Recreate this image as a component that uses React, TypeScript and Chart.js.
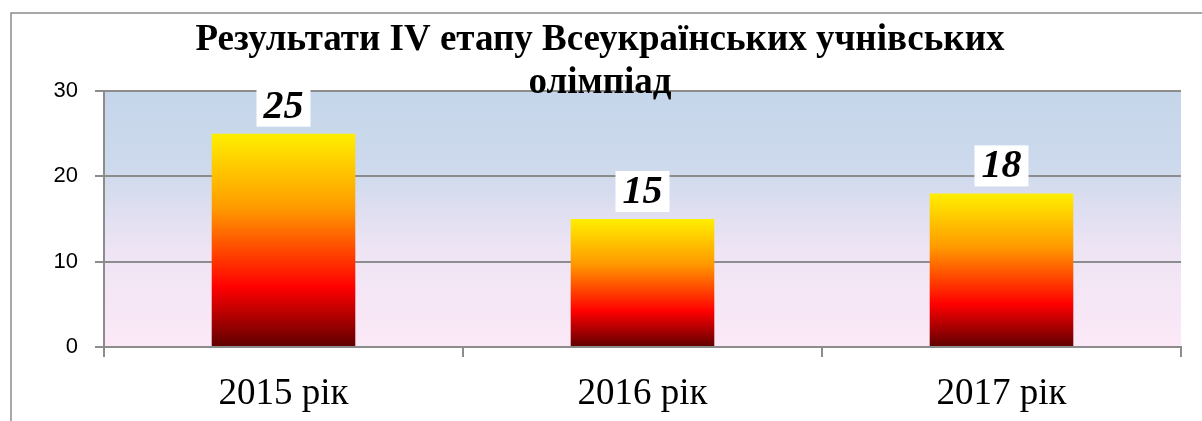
import React, { useEffect, useRef } from "react";
import { Chart, registerables } from "chart.js";

Chart.register(...registerables);

const titleLines = ["Результати IV етапу Всеукраїнських учнівських", "олімпіад"];
const categories = ["2015 рік", "2016 рік", "2017 рік"];
const values = [25, 15, 18];
const yTicks = [0, 10, 20, 30];

const SERIF = "'Liberation Serif', 'Times New Roman', serif";

const decorPlugin = {
  id: "decor",
  beforeDraw(chart: any) {
    const { ctx, chartArea } = chart;
    ctx.save();
    ctx.fillStyle = "#ffffff";
    ctx.fillRect(0, 0, chart.width, chart.height);
    // outer frame (left & top only visible)
    ctx.strokeStyle = "#8c8c8c";
    ctx.lineWidth = 1.5;
    ctx.beginPath();
    ctx.moveTo(11, chart.height);
    ctx.lineTo(11, 13);
    ctx.lineTo(chart.width, 13);
    ctx.stroke();
    // plot background gradient
    const g = ctx.createLinearGradient(0, chartArea.top, 0, chartArea.bottom);
    g.addColorStop(0, "#c5d6ea");
    g.addColorStop(0.3, "#cdd9ec");
    g.addColorStop(0.62, "#eee4f4");
    g.addColorStop(1, "#fce9f7");
    ctx.fillStyle = g;
    ctx.fillRect(chartArea.left, chartArea.top, chartArea.right - chartArea.left, chartArea.bottom - chartArea.top);
    ctx.restore();
  },
  afterDatasetsDraw(chart: any) {
    const { ctx } = chart;
    const meta = chart.getDatasetMeta(0);
    ctx.save();
    ctx.font = `italic bold 40px ${SERIF}`;
    ctx.textAlign = "center";
    ctx.textBaseline = "alphabetic";
    meta.data.forEach((bar: any, i: number) => {
      const text = String(values[i]);
      const w = ctx.measureText(text).width + 14;
      const h = 41;
      const bottom = bar.y - 7;
      ctx.fillStyle = "#ffffff";
      ctx.fillRect(bar.x - w / 2, bottom - h, w, h);
      ctx.fillStyle = "#000000";
      ctx.fillText(text, bar.x, bottom - 9);
    });
    ctx.restore();
  },
  afterDraw(chart: any) {
    const { ctx } = chart;
    ctx.save();
    ctx.font = `bold 37px ${SERIF}`;
    ctx.textAlign = "center";
    ctx.textBaseline = "alphabetic";
    ctx.fillStyle = "#000000";
    ctx.fillText(titleLines[0], 600, 50);
    ctx.fillText(titleLines[1], 600, 93);
    ctx.restore();
  },
};

export default function App() {
  const ref = useRef<HTMLCanvasElement>(null);
  useEffect(() => {
    document.body.style.margin = "0";
    const chart = new Chart(ref.current!, {
      type: "bar",
      data: {
        labels: categories,
        datasets: [
          {
            data: values,
            backgroundColor: (c: any) => {
              const chart = c.chart;
              const y = chart.scales && chart.scales.y;
              if (!y || c.type !== "data") return "#ff6000";
              const top = y.getPixelForValue(c.raw);
              const base = y.getPixelForValue(0);
              if (!isFinite(top) || !isFinite(base) || top === base) return "#ff6000";
              const g = chart.ctx.createLinearGradient(0, top, 0, base);
              g.addColorStop(0, "#ffef00");
              g.addColorStop(0.35, "#ff9a00");
              g.addColorStop(0.72, "#ff0000");
              g.addColorStop(1, "#5e0000");
              return g;
            },
            borderWidth: 0,
            categoryPercentage: 1,
            barPercentage: 0.4,
          },
        ],
      },
      options: {
        responsive: false,
        animation: false,
        layout: { padding: { top: 91, right: 21, left: 0, bottom: 0 } },
        plugins: {
          legend: { display: false },
          title: { display: false },
          tooltip: { enabled: false },
        },
        scales: {
          y: {
            min: 0,
            max: 30,
            afterBuildTicks: (s: any) => {
              s.ticks = yTicks.map((v) => ({ value: v }));
            },
            afterFit: (s: any) => {
              s.width = 104;
            },
            ticks: {
              color: "#000000",
              font: { family: "'Liberation Sans', Arial, sans-serif", size: 22 },
              padding: 17,
            },
            grid: { color: "#8c8c8c", lineWidth: 2, tickLength: 9 },
            border: { color: "#8c8c8c", width: 2 },
          },
          x: {
            afterFit: (s: any) => {
              s.height = 421 - 347;
            },
            ticks: {
              color: "#000000",
              font: { family: SERIF, size: 37 },
              padding: 15,
            },
            grid: { drawOnChartArea: false, drawTicks: true, tickLength: 10, color: "#8c8c8c", lineWidth: 2, offset: true },
            border: { color: "#8c8c8c", width: 2 },
          },
        },
      },
      plugins: [decorPlugin],
    });
    return () => chart.destroy();
  }, []);
  return <canvas ref={ref} width={1202} height={421} style={{ display: "block" }} />;
}
